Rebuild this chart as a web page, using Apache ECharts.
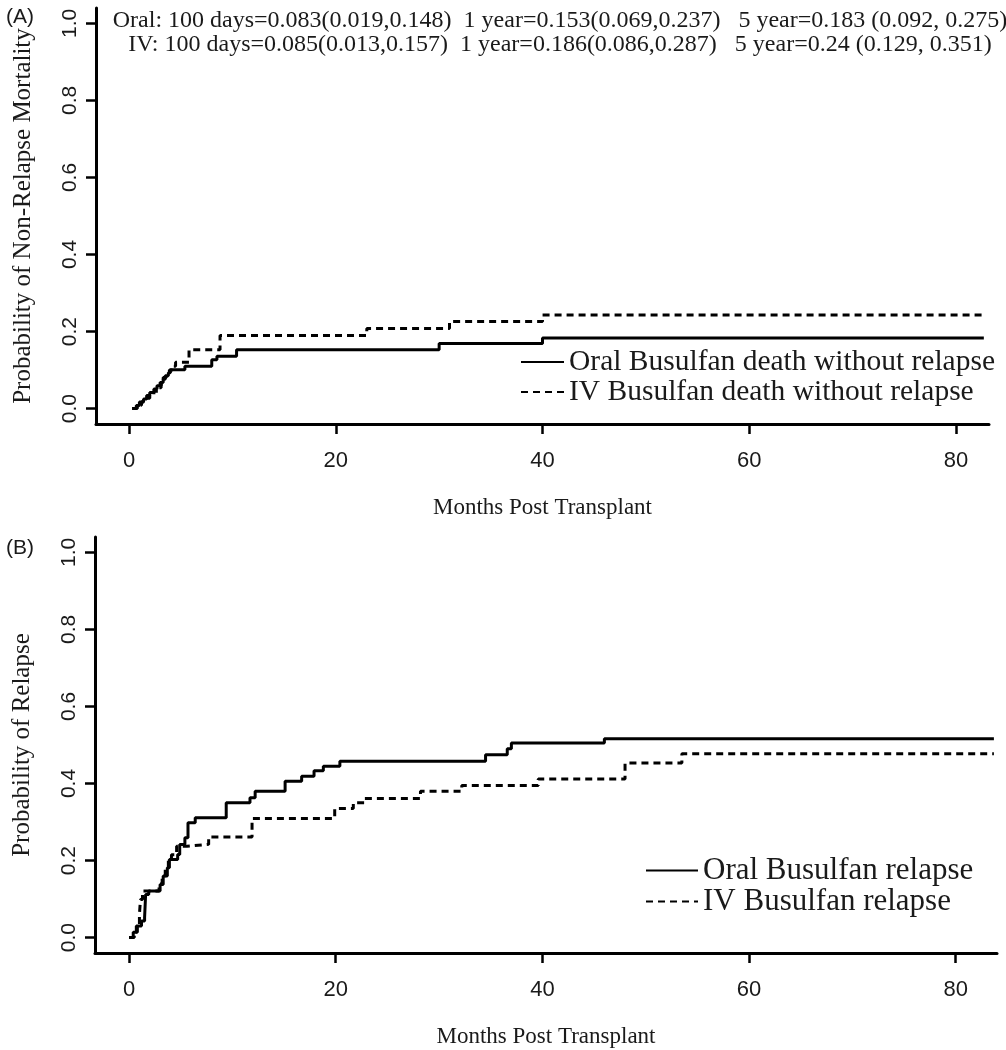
<!DOCTYPE html>
<html><head><meta charset="utf-8">
<script src="https://cdn.jsdelivr.net/npm/echarts@6/dist/echarts.min.js"></script>
<style>html,body{margin:0;padding:0;background:#fff}#c{width:1006px;height:1050px}</style>
</head><body><div id="c"></div>
<script>
// ---- Panel A: non-relapse mortality ----
const nrmOralMonths = [0.3,0.7,1.0,1.4,1.7,2.0,2.4,2.7,3.0,3.3,3.5,3.8,4.0,5.4,8.0,8.5,10.4,30.0,40.0,82.7];
const nrmOralProb   = [0,0.008,0.017,0.025,0.034,0.042,0.051,0.059,0.068,0.076,0.085,0.093,0.101,0.110,0.127,0.136,0.153,0.169,0.183,0.183];
const nrmIvMonths   = [0.3,0.8,1.2,1.6,2.0,2.4,2.8,3.1,3.3,3.6,3.9,4.2,4.5,5.8,8.8,23.0,31.0,40.0,82.7];
const nrmIvProb     = [0,0.009,0.018,0.027,0.036,0.045,0.054,0.063,0.081,0.09,0.10,0.11,0.12,0.153,0.19,0.208,0.226,0.243,0.243];

// ---- Panel B: relapse ----
const relOralMonths = [0,0.4,0.7,1.2,1.5,1.6,1.9,3.0,3.3,3.7,3.9,4.7,4.9,5.4,5.7,6.4,9.4,11.7,12.2,15.1,16.7,17.9,18.8,20.4,34.5,36.6,37.0,46.0,83.7];
const relOralProb   = [0,0.014,0.03,0.043,0.052,0.112,0.121,0.138,0.16,0.181,0.203,0.216,0.242,0.259,0.298,0.311,0.35,0.363,0.38,0.406,0.419,0.433,0.445,0.458,0.475,0.49,0.505,0.516,0.516];
const relIvMonths   = [0,0.5,0.8,1.0,1.1,1.3,2.9,3.2,3.5,3.8,4.1,4.6,5.6,7.7,11.9,19.9,21.7,22.8,28.2,32.2,39.6,48.0,53.5,83.7];
const relIvProb     = [0,0.014,0.03,0.06,0.099,0.121,0.14,0.16,0.18,0.2,0.215,0.237,0.242,0.261,0.309,0.335,0.35,0.361,0.38,0.395,0.412,0.453,0.477,0.477];

// ---- Axis ticks and texts ----
const xTicks = [0,20,40,60,80];
const yTicks = [0,0.2,0.4,0.6,0.8,1.0];
const seriesNames = ['Oral Busulfan death without relapse','IV Busulfan death without relapse','Oral Busulfan relapse','IV Busulfan relapse'];
const summaryLines = [
  'Oral: 100 days=0.083(0.019,0.148)  1 year=0.153(0.069,0.237)   5 year=0.183 (0.092, 0.275)',
  'IV: 100 days=0.085(0.013,0.157)  1 year=0.186(0.086,0.287)   5 year=0.24 (0.129, 0.351)'
];

const zip = (a,b) => a.map((v,i)=>[v,b[i]]);
const SANS = "'Liberation Sans Narrow','Liberation Sans',Arial,sans-serif";
const SERIF = "'Liberation Serif','Times New Roman',serif";
const INK = '#1a1a1a';

function xAxisCfg(idx, min, max){
  return {type:'value', gridIndex:idx, min, max,
    name:'Months Post Transplant', nameLocation:'middle', nameGap:72,
    nameTextStyle:{fontFamily:SERIF, fontSize:23, color:INK},
    axisLine:{onZero:false, lineStyle:{color:'#000', width:3}},
    axisTick:{customValues:xTicks, length:10, lineStyle:{color:'#000', width:2.5}},
    axisLabel:{customValues:xTicks, margin:26, fontFamily:SANS, fontSize:22, color:INK},
    splitLine:{show:false}};
}
function yAxisCfg(idx, name){
  return {type:'value', gridIndex:idx, min:-0.04, max:1.04,
    name, nameLocation:'middle', nameGap:60, nameRotate:90,
    nameTextStyle:{fontFamily:SERIF, fontSize:25, color:INK},
    axisLine:{onZero:false, lineStyle:{color:'#000', width:3}},
    axisTick:{customValues:yTicks, length:10, lineStyle:{color:'#000', width:2.5}},
    axisLabel:{customValues:yTicks, rotate:90, margin:15, fontFamily:SANS, fontSize:21, color:INK,
      formatter:v=>v.toFixed(1)},
    splitLine:{show:false}};
}
function stepSeries(name, idx, data, dashed){
  return {type:'line', name, xAxisIndex:idx, yAxisIndex:idx, step:'end', symbol:'none',
    data, lineStyle:{color:'#000', width:3, type: dashed ? [7,5] : 'solid'},
    itemStyle:{color:'#000'}, animation:false, silent:true};
}
function legendCfg(names, left, top, w, size){
  return {data:names, orient:'vertical', left, top, padding:0, itemWidth:w, itemHeight:12, itemGap:0,
    itemStyle:{opacity:0}, selectedMode:false,
    textStyle:{fontFamily:SERIF, fontSize:size, color:INK, lineHeight:30}};
}

const chart = echarts.init(document.getElementById('c'), null, {renderer:'canvas'});
chart.setOption({
  backgroundColor:'#fff',
  animation:false,
  grid:[
    {left:96, top:8, width:893, height:416},
    {left:95, top:537, width:902, height:416}
  ],
  xAxis:[xAxisCfg(0,-3.2,83.2), xAxisCfg(1,-3.3,84.0)],
  yAxis:[yAxisCfg(0,'Probability of Non-Relapse Mortality'), yAxisCfg(1,'Probability of Relapse')],
  legend:[
    legendCfg([seriesNames[0],seriesNames[1]], 520, 347, 43, 29.5),
    legendCfg([seriesNames[2],seriesNames[3]], 645, 855, 52, 31)
  ],
  series:[
    stepSeries(seriesNames[0],0,zip(nrmOralMonths,nrmOralProb),false),
    stepSeries(seriesNames[1],0,zip(nrmIvMonths,nrmIvProb),true),
    stepSeries(seriesNames[2],1,zip(relOralMonths,relOralProb),false),
    stepSeries(seriesNames[3],1,zip(relIvMonths,relIvProb),true)
  ],
  graphic:[
    {type:'text', x:560, y:21, style:{text:summaryLines[0], textAlign:'center', textVerticalAlign:'middle', font:"24px "+SERIF, fill:INK}},
    {type:'text', x:560, y:45, style:{text:summaryLines[1], textAlign:'center', textVerticalAlign:'middle', font:"24px "+SERIF, fill:INK}},
    {type:'text', x:6, y:17, style:{text:'(A)', textVerticalAlign:'middle', font:"21px "+SANS, fill:INK}},
    {type:'text', x:6, y:548, style:{text:'(B)', textVerticalAlign:'middle', font:"21px "+SANS, fill:INK}}
  ]
});
</script></body></html>
